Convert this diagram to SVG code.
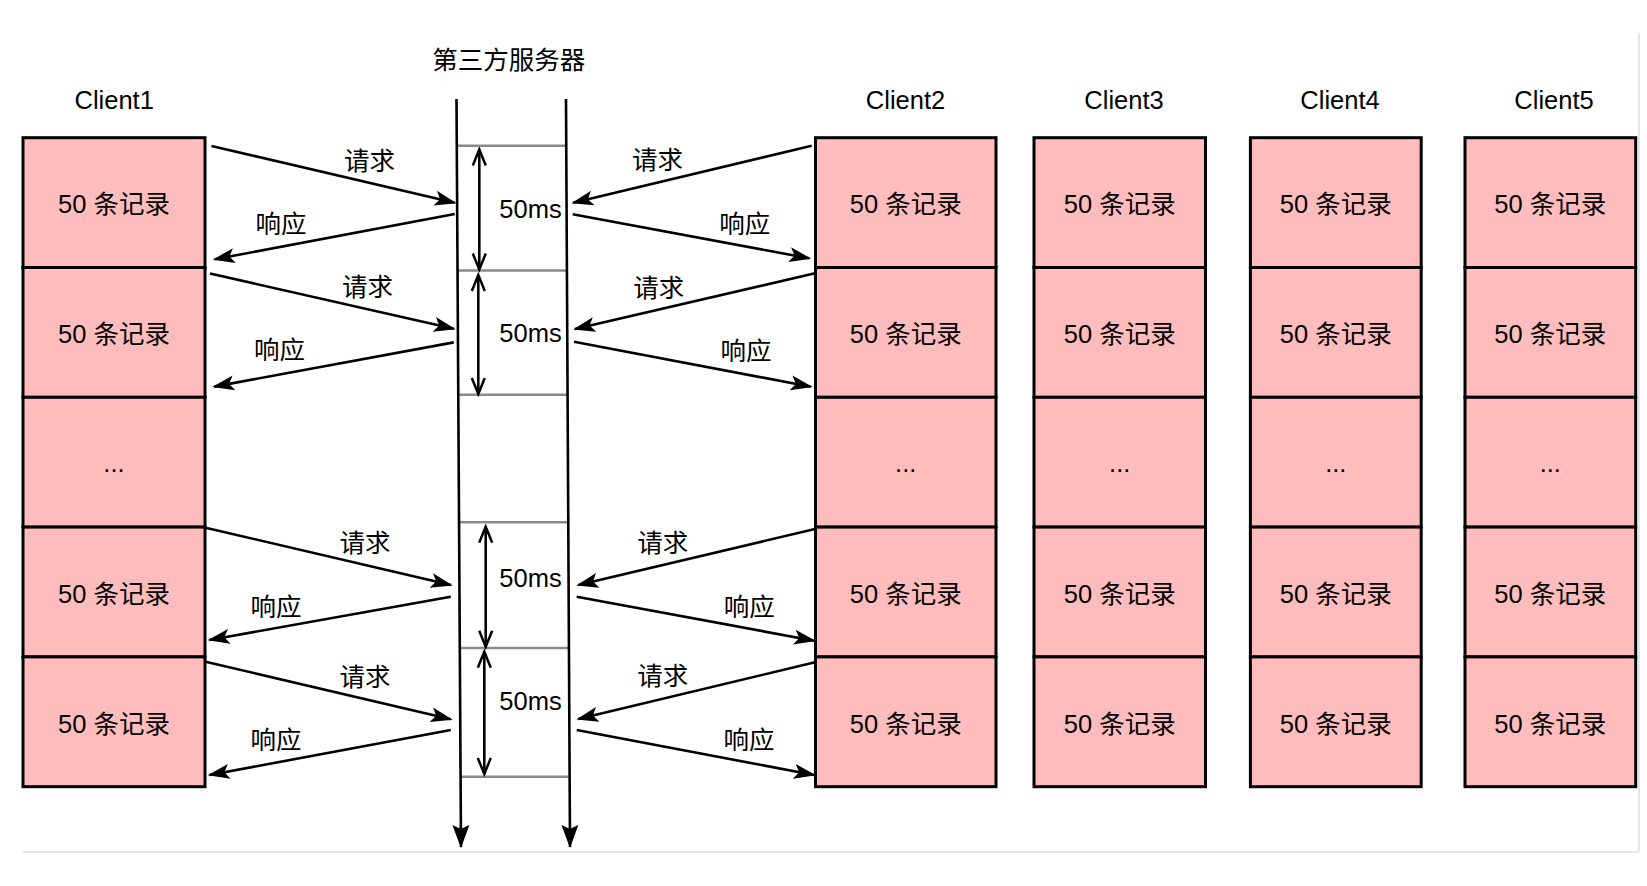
<svg xmlns="http://www.w3.org/2000/svg" width="1647" height="886" viewBox="0 0 1647 886">
<style>
.t{font-family:"Liberation Sans","Noto Sans CJK SC",sans-serif;font-size:25.5px;fill:#000;text-anchor:middle}
.cell{fill:#ffbcbc;stroke:#000;stroke-width:3}
.ln{stroke:#000;stroke-width:2.6;fill:none}
.tick{stroke:#8a8a8a;stroke-width:2.5}
.frame{stroke:#dedede;stroke-width:1.5;fill:none}
</style>
<defs>
<marker id="arr" markerUnits="userSpaceOnUse" markerWidth="24" markerHeight="18" viewBox="0 0 24 18" refX="20" refY="9" orient="auto">
<path d="M0,1.5 L22,9 L0,16.5 L5,9 Z" fill="#000"/>
</marker>
<marker id="big" markerUnits="userSpaceOnUse" markerWidth="26" markerHeight="22" viewBox="0 0 26 22" refX="22" refY="11" orient="auto">
<path d="M0,2.5 L23,11 L0,19.5 L4,11 Z" fill="#000"/>
</marker>
<marker id="open" markerUnits="userSpaceOnUse" markerWidth="20" markerHeight="16" viewBox="0 0 20 16" refX="17" refY="8" orient="auto-start-reverse">
<path d="M1,1.5 L17,8 L1,14.5" fill="none" stroke="#000" stroke-width="2.5"/>
</marker>
</defs>
<rect width="1647" height="886" fill="#fff"/>
<path class="frame" d="M23,852 L1639,852 M1639,33 L1639,852"/>

<text class="t" x="508.7" y="69">第三方服务器</text>

<g id="client1">
<text class="t" x="114.2" y="109">Client1</text>
<rect class="cell" x="23" y="137.7" width="182" height="129.8"/>
<rect class="cell" x="23" y="267.5" width="182" height="129.8"/>
<rect class="cell" x="23" y="397.3" width="182" height="129.8"/>
<rect class="cell" x="23" y="527.1" width="182" height="129.8"/>
<rect class="cell" x="23" y="656.9" width="182" height="129.8"/>
<text class="t" x="114" y="213.3">50 条记录</text>
<text class="t" x="114" y="343.1">50 条记录</text>
<text class="t" x="114" y="472">...</text>
<text class="t" x="114" y="602.7">50 条记录</text>
<text class="t" x="114" y="732.5">50 条记录</text>
</g>

<g id="client2">
<text class="t" x="905.5" y="109">Client2</text>
<rect class="cell" x="815.5" y="137.7" width="180.5" height="129.8"/>
<rect class="cell" x="815.5" y="267.5" width="180.5" height="129.8"/>
<rect class="cell" x="815.5" y="397.3" width="180.5" height="129.8"/>
<rect class="cell" x="815.5" y="527.1" width="180.5" height="129.8"/>
<rect class="cell" x="815.5" y="656.9" width="180.5" height="129.8"/>
<text class="t" x="905.7" y="213.3">50 条记录</text>
<text class="t" x="905.7" y="343.1">50 条记录</text>
<text class="t" x="905.7" y="472">...</text>
<text class="t" x="905.7" y="602.7">50 条记录</text>
<text class="t" x="905.7" y="732.5">50 条记录</text>
</g>

<g id="client3">
<text class="t" x="1124" y="109">Client3</text>
<rect class="cell" x="1034" y="137.7" width="171.5" height="129.8"/>
<rect class="cell" x="1034" y="267.5" width="171.5" height="129.8"/>
<rect class="cell" x="1034" y="397.3" width="171.5" height="129.8"/>
<rect class="cell" x="1034" y="527.1" width="171.5" height="129.8"/>
<rect class="cell" x="1034" y="656.9" width="171.5" height="129.8"/>
<text class="t" x="1119.7" y="213.3">50 条记录</text>
<text class="t" x="1119.7" y="343.1">50 条记录</text>
<text class="t" x="1119.7" y="472">...</text>
<text class="t" x="1119.7" y="602.7">50 条记录</text>
<text class="t" x="1119.7" y="732.5">50 条记录</text>
</g>

<g id="client4">
<text class="t" x="1340" y="109">Client4</text>
<rect class="cell" x="1250.4" y="137.7" width="170.8" height="129.8"/>
<rect class="cell" x="1250.4" y="267.5" width="170.8" height="129.8"/>
<rect class="cell" x="1250.4" y="397.3" width="170.8" height="129.8"/>
<rect class="cell" x="1250.4" y="527.1" width="170.8" height="129.8"/>
<rect class="cell" x="1250.4" y="656.9" width="170.8" height="129.8"/>
<text class="t" x="1335.8" y="213.3">50 条记录</text>
<text class="t" x="1335.8" y="343.1">50 条记录</text>
<text class="t" x="1335.8" y="472">...</text>
<text class="t" x="1335.8" y="602.7">50 条记录</text>
<text class="t" x="1335.8" y="732.5">50 条记录</text>
</g>

<g id="client5">
<text class="t" x="1554" y="109">Client5</text>
<rect class="cell" x="1465" y="137.7" width="170.7" height="129.8"/>
<rect class="cell" x="1465" y="267.5" width="170.7" height="129.8"/>
<rect class="cell" x="1465" y="397.3" width="170.7" height="129.8"/>
<rect class="cell" x="1465" y="527.1" width="170.7" height="129.8"/>
<rect class="cell" x="1465" y="656.9" width="170.7" height="129.8"/>
<text class="t" x="1550.3" y="213.3">50 条记录</text>
<text class="t" x="1550.3" y="343.1">50 条记录</text>
<text class="t" x="1550.3" y="472">...</text>
<text class="t" x="1550.3" y="602.7">50 条记录</text>
<text class="t" x="1550.3" y="732.5">50 条记录</text>
</g>

<g id="server">
<line class="tick" x1="457" y1="145.7" x2="566.5" y2="145.7"/>
<line class="tick" x1="457.5" y1="270.5" x2="567" y2="270.5"/>
<line class="tick" x1="458" y1="394.7" x2="567.5" y2="394.7"/>
<line class="tick" x1="459" y1="522.3" x2="568.5" y2="522.3"/>
<line class="tick" x1="459.5" y1="648" x2="569" y2="648"/>
<line class="tick" x1="460" y1="776.7" x2="569.5" y2="776.7"/>
<line class="ln" x1="456.5" y1="99" x2="461" y2="847" stroke-width="3.2" marker-end="url(#big)"/>
<line class="ln" x1="566" y1="99" x2="570" y2="847" stroke-width="3.2" marker-end="url(#big)"/>
<line class="ln" x1="479.3" y1="149.5" x2="479.3" y2="269.5" marker-start="url(#open)" marker-end="url(#open)"/>
<line class="ln" x1="478.3" y1="275" x2="478.3" y2="394" marker-start="url(#open)" marker-end="url(#open)"/>
<line class="ln" x1="485.7" y1="526.7" x2="485.7" y2="646.7" marker-start="url(#open)" marker-end="url(#open)"/>
<line class="ln" x1="484.3" y1="651.7" x2="484.3" y2="774" marker-start="url(#open)" marker-end="url(#open)"/>
<text class="t" x="530.5" y="218.3">50ms</text>
<text class="t" x="530.5" y="341.7">50ms</text>
<text class="t" x="530.5" y="587">50ms</text>
<text class="t" x="530.5" y="710">50ms</text>
</g>

<g id="connectors">
<line class="ln" x1="211.5" y1="146" x2="454.7" y2="202.7" marker-end="url(#arr)"/>
<line class="ln" x1="454.7" y1="214" x2="214.7" y2="259.3" marker-end="url(#arr)"/>
<line class="ln" x1="210" y1="273.5" x2="453.8" y2="328.8" marker-end="url(#arr)"/>
<line class="ln" x1="453.8" y1="342.4" x2="214.3" y2="386.6" marker-end="url(#arr)"/>
<line class="ln" x1="205.6" y1="527.7" x2="450.8" y2="585" marker-end="url(#arr)"/>
<line class="ln" x1="450.8" y1="596.7" x2="209.6" y2="640" marker-end="url(#arr)"/>
<line class="ln" x1="205.6" y1="661.7" x2="450.8" y2="719.3" marker-end="url(#arr)"/>
<line class="ln" x1="450.8" y1="730" x2="209.6" y2="775" marker-end="url(#arr)"/>

<line class="ln" x1="811.7" y1="145.7" x2="573.3" y2="202.7" marker-end="url(#arr)"/>
<line class="ln" x1="572.7" y1="214.3" x2="809.3" y2="258.3" marker-end="url(#arr)"/>
<line class="ln" x1="815" y1="273.3" x2="575" y2="329" marker-end="url(#arr)"/>
<line class="ln" x1="574" y1="341.7" x2="810.7" y2="386.7" marker-end="url(#arr)"/>
<line class="ln" x1="815" y1="529" x2="578.3" y2="585" marker-end="url(#arr)"/>
<line class="ln" x1="576.7" y1="596.7" x2="814" y2="640.7" marker-end="url(#arr)"/>
<line class="ln" x1="815" y1="662.3" x2="578.3" y2="719" marker-end="url(#arr)"/>
<line class="ln" x1="576.7" y1="730" x2="814" y2="775" marker-end="url(#arr)"/>

<text class="t" x="369.5" y="169.5">请求</text>
<text class="t" x="281" y="232.5">响应</text>
<text class="t" x="367.6" y="296.3">请求</text>
<text class="t" x="279.4" y="359.3">响应</text>
<text class="t" x="365" y="551.5">请求</text>
<text class="t" x="276" y="615.5">响应</text>
<text class="t" x="365" y="685.5">请求</text>
<text class="t" x="276" y="749.2">响应</text>

<text class="t" x="657.5" y="169.2">请求</text>
<text class="t" x="744.7" y="232.8">响应</text>
<text class="t" x="658.8" y="297">请求</text>
<text class="t" x="746" y="360.3">响应</text>
<text class="t" x="662.7" y="551.5">请求</text>
<text class="t" x="749.2" y="615.5">响应</text>
<text class="t" x="662.7" y="685.2">请求</text>
<text class="t" x="749" y="749.2">响应</text>
</g>
</svg>
